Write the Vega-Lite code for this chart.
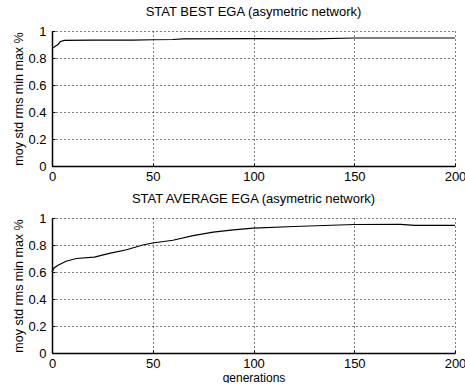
{
  "$schema": "https://vega.github.io/schema/vega-lite/v6.json",
  "padding": {"left": 12, "top": 6, "right": 0, "bottom": 0},
  "background": "white",
  "datasets": {
    "best": [
      {"gen": 0, "val": 0.875},
      {"gen": 1, "val": 0.88},
      {"gen": 2, "val": 0.89},
      {"gen": 3, "val": 0.9},
      {"gen": 4, "val": 0.92},
      {"gen": 6, "val": 0.93},
      {"gen": 20, "val": 0.932},
      {"gen": 40, "val": 0.933},
      {"gen": 50, "val": 0.935},
      {"gen": 60, "val": 0.937},
      {"gen": 65, "val": 0.942},
      {"gen": 100, "val": 0.943},
      {"gen": 130, "val": 0.942},
      {"gen": 150, "val": 0.948},
      {"gen": 200, "val": 0.948}
    ],
    "avg": [
      {"gen": 0, "val": 0.6},
      {"gen": 1, "val": 0.63},
      {"gen": 3, "val": 0.65},
      {"gen": 7, "val": 0.68},
      {"gen": 12, "val": 0.7},
      {"gen": 21, "val": 0.71},
      {"gen": 29, "val": 0.74},
      {"gen": 37, "val": 0.765},
      {"gen": 45, "val": 0.8},
      {"gen": 50, "val": 0.815},
      {"gen": 60, "val": 0.835},
      {"gen": 70, "val": 0.87},
      {"gen": 80, "val": 0.895},
      {"gen": 90, "val": 0.912},
      {"gen": 100, "val": 0.925},
      {"gen": 120, "val": 0.937},
      {"gen": 150, "val": 0.952},
      {"gen": 173, "val": 0.953},
      {"gen": 180, "val": 0.945},
      {"gen": 200, "val": 0.945}
    ]
  },
  "config": {
    "font": "Liberation Sans",
    "view": {"stroke": null},
    "title": {"fontSize": 13, "fontWeight": "normal", "color": "black", "offset": 6},
    "axis": {
      "labelColor": "black",
      "labelFontSize": 13,
      "labelFlush": false,
      "labelOverlap": false,
      "titleColor": "black",
      "titleFontSize": 12.5,
      "titleFontWeight": "normal",
      "domainColor": "black",
      "domainWidth": 1.5,
      "tickColor": "black",
      "tickSize": 3,
      "gridColor": "black",
      "gridDash": [1, 3],
      "gridOpacity": 1,
      "gridWidth": 1
    }
  },
  "vconcat": [
    {
      "width": 403,
      "height": 135,
      "title": "STAT BEST EGA (asymetric network)",
      "data": {"name": "best"},
      "mark": {"type": "line", "color": "black", "strokeWidth": 1.2},
      "encoding": {
        "x": {"field": "gen", "type": "quantitative", "scale": {"domain": [0, 200], "nice": false}, "axis": {"values": [0, 50, 100, 150, 200], "title": null, "labelPadding": 7, "tickSize": -3}},
        "y": {"field": "val", "type": "quantitative", "scale": {"domain": [0, 1], "nice": false}, "axis": {"values": [0, 0.2, 0.4, 0.6, 0.8, 1], "format": "~g", "title": "moy std rms min max %", "titlePadding": 2, "labelPadding": 9, "tickSize": -3}}
      }
    },
    {
      "width": 403,
      "height": 135,
      "title": "STAT AVERAGE EGA (asymetric network)",
      "data": {"name": "avg"},
      "mark": {"type": "line", "color": "black", "strokeWidth": 1.2},
      "encoding": {
        "x": {"field": "gen", "type": "quantitative", "scale": {"domain": [0, 200], "nice": false}, "axis": {"values": [0, 50, 100, 150, 200], "title": "generations", "titleFontSize": 12, "titlePadding": 2, "labelPadding": 7, "tickSize": -3}},
        "y": {"field": "val", "type": "quantitative", "scale": {"domain": [0, 1], "nice": false}, "axis": {"values": [0, 0.2, 0.4, 0.6, 0.8, 1], "format": "~g", "title": "moy std rms min max %", "titlePadding": 2, "labelPadding": 9, "tickSize": -3}}
      }
    }
  ],
  "spacing": 10
}
